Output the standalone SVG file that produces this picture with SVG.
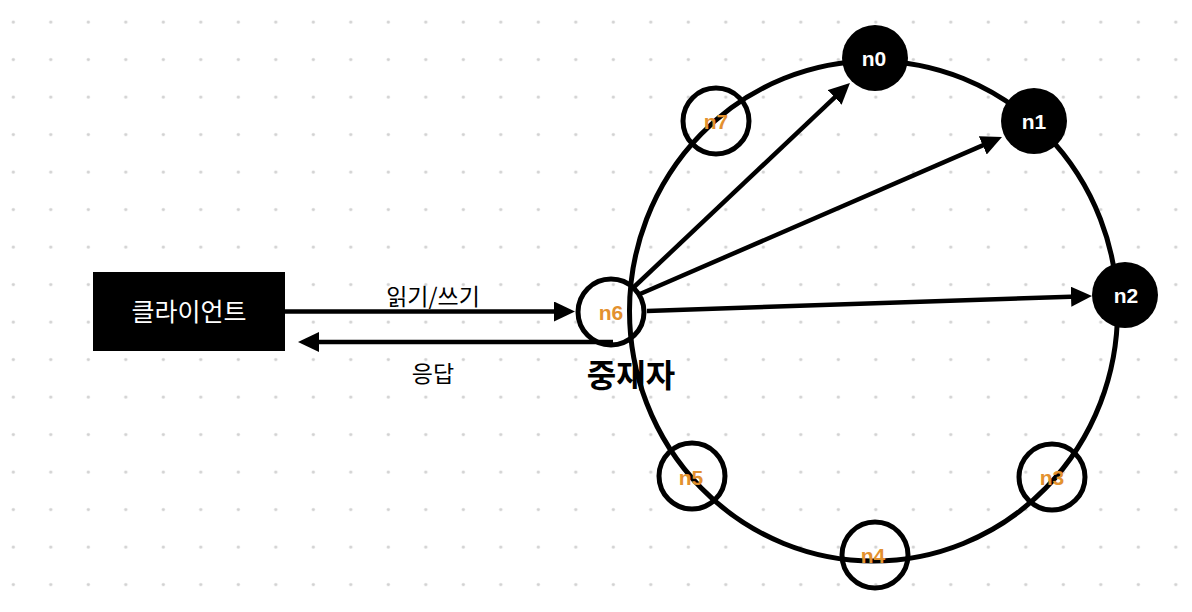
<svg xmlns="http://www.w3.org/2000/svg" width="1192" height="612" viewBox="0 0 1192 612">
<style>
.kr{font-family:"Noto Sans CJK KR","Liberation Sans",sans-serif;}
.lbl{font-family:"Liberation Sans",Arial,sans-serif;font-size:21px;text-anchor:middle;font-weight:bold;}
.w{fill:#ffffff;}
.o{fill:#e3912f;}
.hollow{fill:none;stroke:#000;stroke-width:5;}
.solid{fill:#000;}
.conn{stroke:#000;stroke-width:4.5;fill:none;marker-end:url(#ah);}
</style>
<defs>
<pattern id="dots" patternUnits="userSpaceOnUse" width="37.5" height="37.5">
<circle cx="13.3" cy="22" r="1.6" fill="#d2d2d2"/>
</pattern>
<marker id="ah" markerUnits="userSpaceOnUse" markerWidth="22" markerHeight="20" viewBox="0 0 22 20" refX="15" refY="10" orient="auto">
<path d="M0,0 L21,10 L0,20 z" fill="#000"/>
</marker>
</defs>
<rect width="1192" height="612" fill="#ffffff"/>
<rect width="1192" height="612" fill="url(#dots)"/>
<g id="ring">
<ellipse cx="873.5" cy="311" rx="244" ry="250" fill="none" stroke="#000" stroke-width="5"/>
</g>
<g id="connectors">
<line class="conn" x1="285" y1="311.5" x2="569" y2="311.5"/>
<line class="conn" x1="613" y1="342" x2="304" y2="342"/>
<line class="conn" x1="634" y1="287" x2="845.6" y2="87.1"/>
<line class="conn" x1="640" y1="294" x2="996.5" y2="139.4"/>
<line class="conn" x1="647" y1="311" x2="1086" y2="296.2"/>
<text class="kr" x="433" y="305" font-size="23" text-anchor="middle" fill="#000">읽기/쓰기</text>
<text class="kr" x="433" y="382" font-size="23" text-anchor="middle" fill="#000">응답</text>
</g>
<g id="client">
<rect x="93" y="272" width="192" height="79" fill="#000"/>
<text class="kr" x="189" y="321" font-size="25" text-anchor="middle" fill="#fff">클라이언트</text>
</g>
<g id="n0"><circle class="solid" cx="875" cy="58" r="33"/><text class="lbl w" x="874" y="65.5">n0</text></g>
<g id="n1"><circle class="solid" cx="1034" cy="121" r="33"/><text class="lbl w" x="1034" y="129">n1</text></g>
<g id="n2"><circle class="solid" cx="1125" cy="295" r="33"/><text class="lbl w" x="1126" y="302.5">n2</text></g>
<g id="n3"><circle class="hollow" cx="1052" cy="477" r="33"/><text class="lbl o" x="1052" y="485">n3</text></g>
<g id="n4"><circle class="hollow" cx="875" cy="555" r="33"/><text class="lbl o" x="873" y="562.5">n4</text></g>
<g id="n5"><circle class="hollow" cx="692" cy="476" r="33"/><text class="lbl o" x="691" y="485">n5</text></g>
<g id="n6"><circle class="hollow" cx="611" cy="312" r="33"/><text class="lbl o" x="611" y="319.5">n6</text>
<text class="kr" x="631" y="387" font-size="32" font-weight="bold" text-anchor="middle" fill="#000">중재자</text></g>
<g id="n7"><circle class="hollow" cx="716" cy="121" r="33"/><text class="lbl o" x="716" y="129">n7</text></g>
</svg>
